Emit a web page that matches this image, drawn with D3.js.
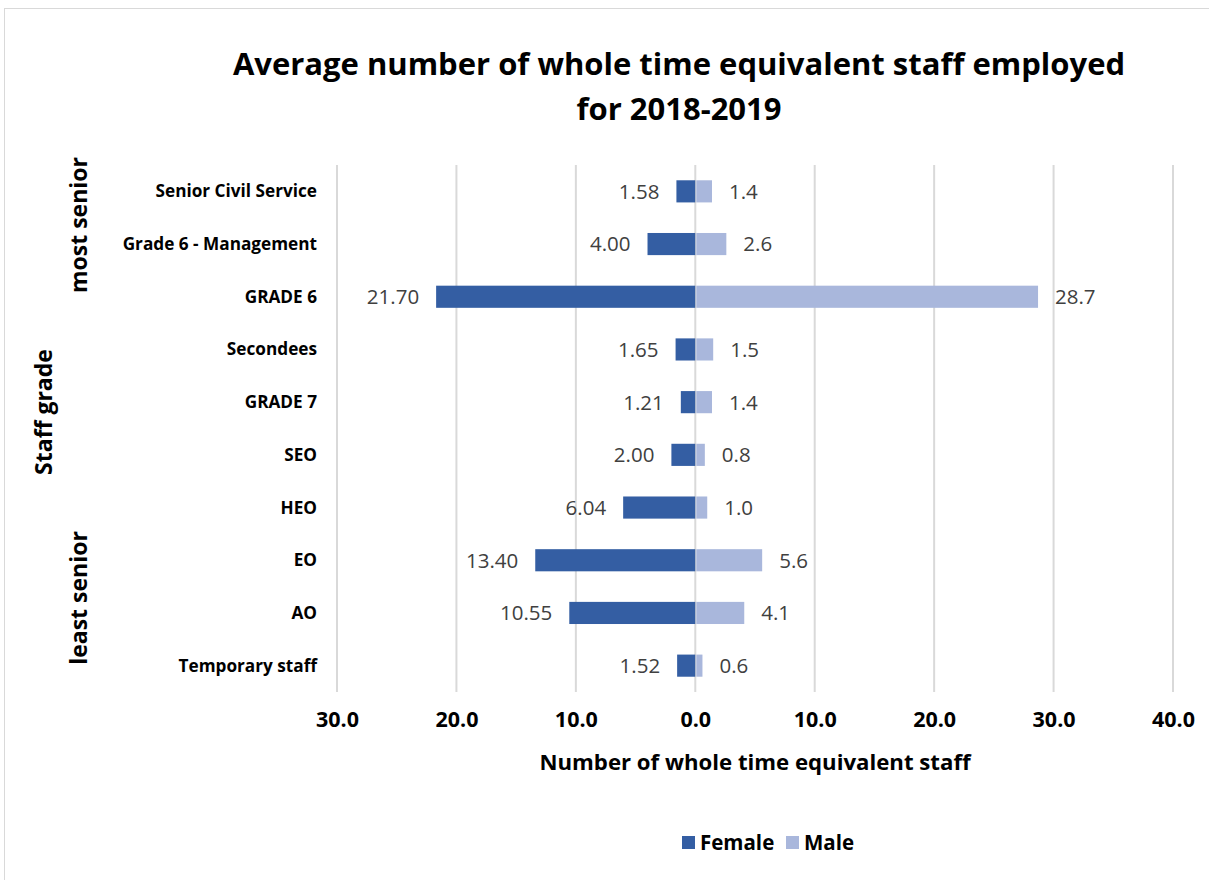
<!DOCTYPE html>
<html>
<head>
<meta charset="utf-8">
<script src="https://cdn.jsdelivr.net/npm/d3@7"></script>
<style>
  html, body { margin: 0; padding: 0; background: #fff; }
  svg { display: block; font-family: "Open Sans", Lato, sans-serif; }
</style>
</head>
<body>
<svg id="chart" width="1209" height="880"></svg>
<script>
// Staff grades, most senior first
const grades = ["Senior Civil Service", "Grade 6 - Management", "GRADE 6", "Secondees", "GRADE 7", "SEO", "HEO", "EO", "AO", "Temporary staff"];
const female = [1.58, 4.00, 21.70, 1.65, 1.21, 2.00, 6.04, 13.40, 10.55, 1.52];
const male = [1.4, 2.6, 28.7, 1.5, 1.4, 0.8, 1.0, 5.6, 4.1, 0.6];
const xTicks = [-30, -20, -10, 0, 10, 20, 30, 40];
const seriesNames = ["Female", "Male"];
const colors = { Female: "#345ea3", Male: "#a9b7dc" };

const svg = d3.select("#chart");

// outer frame
svg.append("rect")
  .attr("x", 4.5).attr("y", 8.5)
  .attr("width", 1230).attr("height", 900)
  .attr("fill", "none").attr("stroke", "#d9d9d9").attr("stroke-width", 1);

// title
const title = svg.append("text")
  .attr("text-anchor", "middle")
  .attr("font-weight", "bold").attr("font-size", 31).attr("fill", "#000");
title.append("tspan").attr("x", 679).attr("y", 75).text("Average number of whole time equivalent staff employed");
title.append("tspan").attr("x", 679).attr("y", 120).text("for 2018-2019");

const x = d3.scaleLinear().domain([-30, 40]).range([337, 1173]);
const y = d3.scaleBand().domain(grades).range([165, 692]).paddingInner(0.58).paddingOuter(0.29);

// vertical gridlines
svg.append("g").selectAll("line").data(xTicks).join("line")
  .attr("x1", d => x(d)).attr("x2", d => x(d))
  .attr("y1", 165).attr("y2", 692)
  .attr("stroke", "#d9d9d9").attr("stroke-width", 2);

// x axis tick labels (absolute values)
const xAxis = d3.axisBottom(x).tickValues(xTicks).tickSize(0).tickPadding(0)
  .tickFormat(d => Math.abs(d).toFixed(1));
const gx = svg.append("g").attr("transform", "translate(0,712)").call(xAxis);
gx.select(".domain").remove();
gx.selectAll("text").attr("font-size", 21.5).attr("font-weight", "bold")
  .attr("fill", "#000").attr("font-family", "'Open Sans', sans-serif");

// bars
const rows = grades.map((g, i) => ({ grade: g, Female: female[i], Male: male[i] }));

svg.append("g").selectAll("rect").data(rows).join("rect")
  .attr("x", d => x(-d.Female)).attr("width", d => x(0) - x(-d.Female))
  .attr("y", d => y(d.grade)).attr("height", y.bandwidth())
  .attr("fill", colors.Female);

svg.append("g").selectAll("rect").data(rows).join("rect")
  .attr("x", x(0) + 1).attr("width", d => x(d.Male) - x(0) - 1)
  .attr("y", d => y(d.grade)).attr("height", y.bandwidth())
  .attr("fill", colors.Male);

// value labels
svg.append("g").selectAll("text").data(rows).join("text")
  .attr("x", d => x(-d.Female) - 17)
  .attr("y", d => y(d.grade) + y.bandwidth() / 2)
  .attr("dy", "0.36em").attr("text-anchor", "end")
  .attr("font-size", 20.5).attr("fill", "#404040")
  .text(d => d.Female.toFixed(2));

svg.append("g").selectAll("text").data(rows).join("text")
  .attr("x", d => x(d.Male) + 17)
  .attr("y", d => y(d.grade) + y.bandwidth() / 2)
  .attr("dy", "0.36em").attr("text-anchor", "start")
  .attr("font-size", 20.5).attr("fill", "#404040")
  .text(d => d.Male.toFixed(1));

// category labels
svg.append("g").selectAll("text").data(grades).join("text")
  .attr("x", 317).attr("y", d => y(d) + y.bandwidth() / 2)
  .attr("dy", "0.35em").attr("text-anchor", "end")
  .attr("font-size", 17.2).attr("font-weight", "bold").attr("fill", "#000")
  .text(d => d);

// axis titles
svg.append("text")
  .attr("x", 755).attr("y", 770).attr("text-anchor", "middle")
  .attr("font-size", 22.2).attr("font-weight", "bold").attr("fill", "#000")
  .text("Number of whole time equivalent staff");

const vLabel = (txt, cx, cy) => svg.append("text")
  .attr("transform", `translate(${cx},${cy}) rotate(-90)`)
  .attr("text-anchor", "middle").attr("dy", "0.35em")
  .attr("font-size", 23).attr("font-weight", "bold").attr("fill", "#000")
  .text(txt);
vLabel("most senior", 79, 225);
vLabel("Staff grade", 44, 412);
vLabel("least senior", 79, 598);

// legend
const legend = svg.append("g");
const legendX = [682, 786];
seriesNames.forEach((s, i) => {
  legend.append("rect")
    .attr("x", legendX[i]).attr("y", 836).attr("width", 13).attr("height", 13)
    .attr("fill", colors[s]);
  legend.append("text")
    .attr("x", legendX[i] + 18).attr("y", 842.5).attr("dy", "0.35em")
    .attr("font-size", 20.5).attr("font-weight", "bold").attr("fill", "#000")
    .text(s);
});
</script>
</body>
</html>
